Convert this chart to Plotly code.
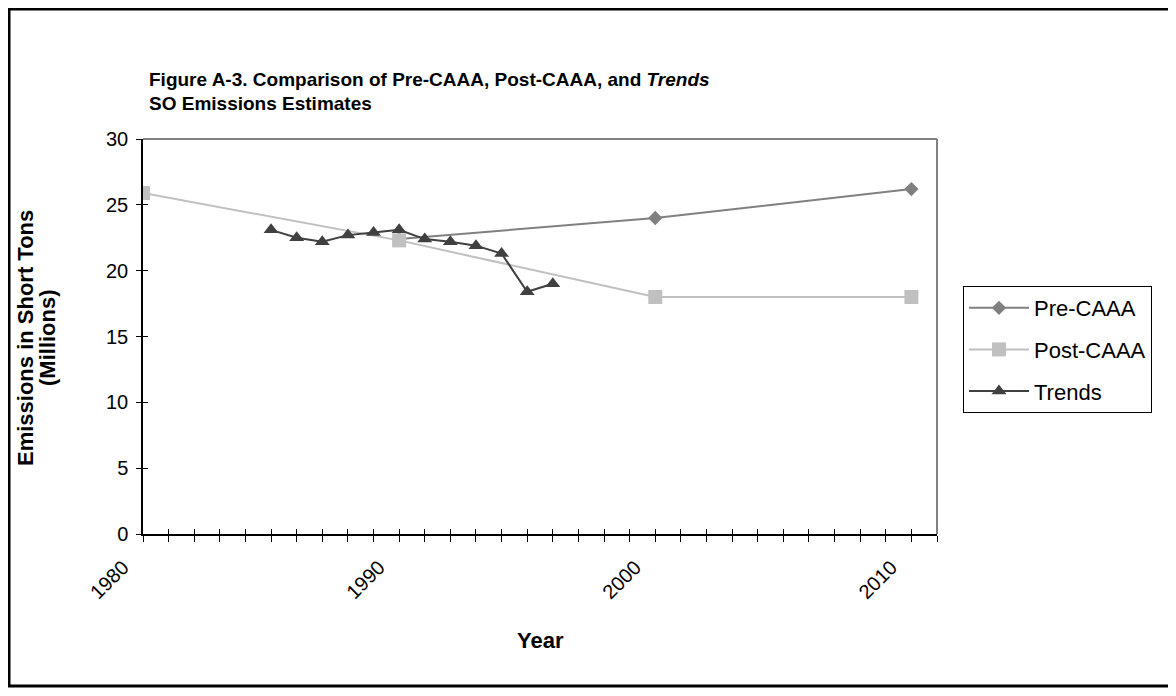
import plotly.graph_objects as go

# ---- data ----
pre_years = [1990, 2000, 2010]
pre_values = [22.4, 24.0, 26.2]

post_years = [1980, 1990, 2000, 2010]
post_values = [25.9, 22.3, 18.0, 18.0]

trend_years = [1985, 1986, 1987, 1988, 1989, 1990, 1991, 1992, 1993, 1994, 1995, 1996]
trend_values = [23.1, 22.5, 22.2, 22.7, 22.9, 23.1, 22.4, 22.2, 21.9, 21.3, 18.4, 19.0]

year_ticks = list(range(1980, 2012))
year_labels = [str(y) if y % 10 == 0 else "" for y in year_ticks]
y_ticks = [0, 5, 10, 15, 20, 25, 30]

FONT = "Liberation Sans, Arial, sans-serif"

# page has an 8px body margin: work in page pixels, convert to figure pixels
OFF = 8
W, H = 1160, 680
L, R, T, B = 143 - OFF, 937 - OFF, 139 - OFF, 534 - OFF
def px(x):
    return (x - OFF - L) / (R - L)
def py(y):
    return (B - (y - OFF)) / (B - T)

fig = go.Figure()
fig.add_trace(go.Scatter(
    x=pre_years, y=pre_values, name="Pre-CAAA", mode="lines+markers",
    legendgroup="a",
    line=dict(color="#808080", width=2),
    marker=dict(symbol="diamond", size=11, color="#808080")))
fig.add_trace(go.Scatter(
    x=post_years, y=post_values, name="Post-CAAA", mode="lines+markers",
    legendgroup="b",
    line=dict(color="#c0c0c0", width=2),
    marker=dict(symbol="square", size=14, color="#c0c0c0")))
fig.add_trace(go.Scatter(
    x=trend_years, y=trend_values, name="Trends", mode="lines+markers",
    legendgroup="c",
    line=dict(color="#404040", width=2),
    marker=dict(symbol="triangle-up", size=13, color="#404040")))

# invisible trace to activate overlay axes (inside half of crossing ticks)
fig.add_trace(go.Scatter(x=[1980], y=[0], xaxis="x2", yaxis="y2", mode="markers",
                         marker=dict(opacity=0), showlegend=False, hoverinfo="skip"))

axis_common = dict(showgrid=False, zeroline=False, linecolor="black", linewidth=1.5,
                   tickcolor="black", tickwidth=1)

fig.update_layout(
    width=W, height=H,
    margin=dict(l=L, r=W - R, t=T, b=H - B, pad=0),
    paper_bgcolor="white", plot_bgcolor="white",
    font=dict(family=FONT, size=19, color="black"),
    showlegend=True,
    legend=dict(x=px(963), y=py(286), xanchor="left", yanchor="top",
                bordercolor="black", borderwidth=1, bgcolor="white",
                traceorder="grouped", tracegroupgap=10,
                font=dict(family=FONT, size=22), itemwidth=60),
    xaxis=dict(range=[1980, 2011], tickmode="array", tickvals=year_ticks,
               ticktext=year_labels, tickangle=-45, ticks="outside", ticklen=6,
               ticklabelshift=-20, ticklabelstandoff=6,
               showline=True, tickfont=dict(size=20), **axis_common),
    yaxis=dict(range=[0, 30], tickmode="array", tickvals=y_ticks, ticks="outside",
               ticklen=5, ticklabelstandoff=4,
               showline=True, tickfont=dict(size=20), **axis_common),
    xaxis2=dict(range=[1980, 2011], overlaying="x", tickmode="array",
                tickvals=year_ticks, ticks="inside", ticklen=5, showticklabels=False,
                showline=False, showgrid=False, zeroline=False, tickcolor="black",
                anchor="y", side="bottom"),
    yaxis2=dict(range=[0, 30], overlaying="y", tickmode="array", tickvals=y_ticks,
                ticks="inside", ticklen=5, showticklabels=False, showline=False,
                showgrid=False, zeroline=False, tickcolor="black", anchor="x", side="left"),
)

# plot-area border (top & right, gray) and outer frame
fig.add_shape(type="line", xref="paper", yref="paper", x0=0, x1=1, y0=1, y1=1,
              line=dict(color="#808080", width=2))
fig.add_shape(type="line", xref="paper", yref="paper", x0=1, x1=1, y0=0, y1=1,
              line=dict(color="#808080", width=2))
fig.add_shape(type="rect", xref="paper", yref="paper",
              x0=px(9), x1=px(1190), y0=py(686), y1=py(9),
              line=dict(color="black", width=3), layer="below")

# titles
fig.add_annotation(xref="paper", yref="paper", x=px(147), y=py(79),
                   xanchor="left", yanchor="middle", showarrow=False,
                   text="<b>Figure A-3. Comparison of Pre-CAAA, Post-CAAA, and <i>Trends</i></b>",
                   font=dict(family=FONT, size=19))
fig.add_annotation(xref="paper", yref="paper", x=px(147), y=py(104),
                   xanchor="left", yanchor="middle", showarrow=False,
                   text="<b>SO Emissions Estimates</b>",
                   font=dict(family=FONT, size=19))
fig.add_annotation(xref="paper", yref="paper", x=0.5, y=py(640),
                   xanchor="center", yanchor="middle", showarrow=False,
                   text="<b>Year</b>", font=dict(family=FONT, size=22))
fig.add_annotation(xref="paper", yref="paper", x=px(25), y=py(338),
                   xanchor="center", yanchor="middle", showarrow=False, textangle=-90,
                   text="<b>Emissions in Short Tons</b>", font=dict(family=FONT, size=22))
fig.add_annotation(xref="paper", yref="paper", x=px(47), y=py(338),
                   xanchor="center", yanchor="middle", showarrow=False, textangle=-90,
                   text="<b>(Millions)</b>", font=dict(family=FONT, size=22))

fig.write_html("out.html")
